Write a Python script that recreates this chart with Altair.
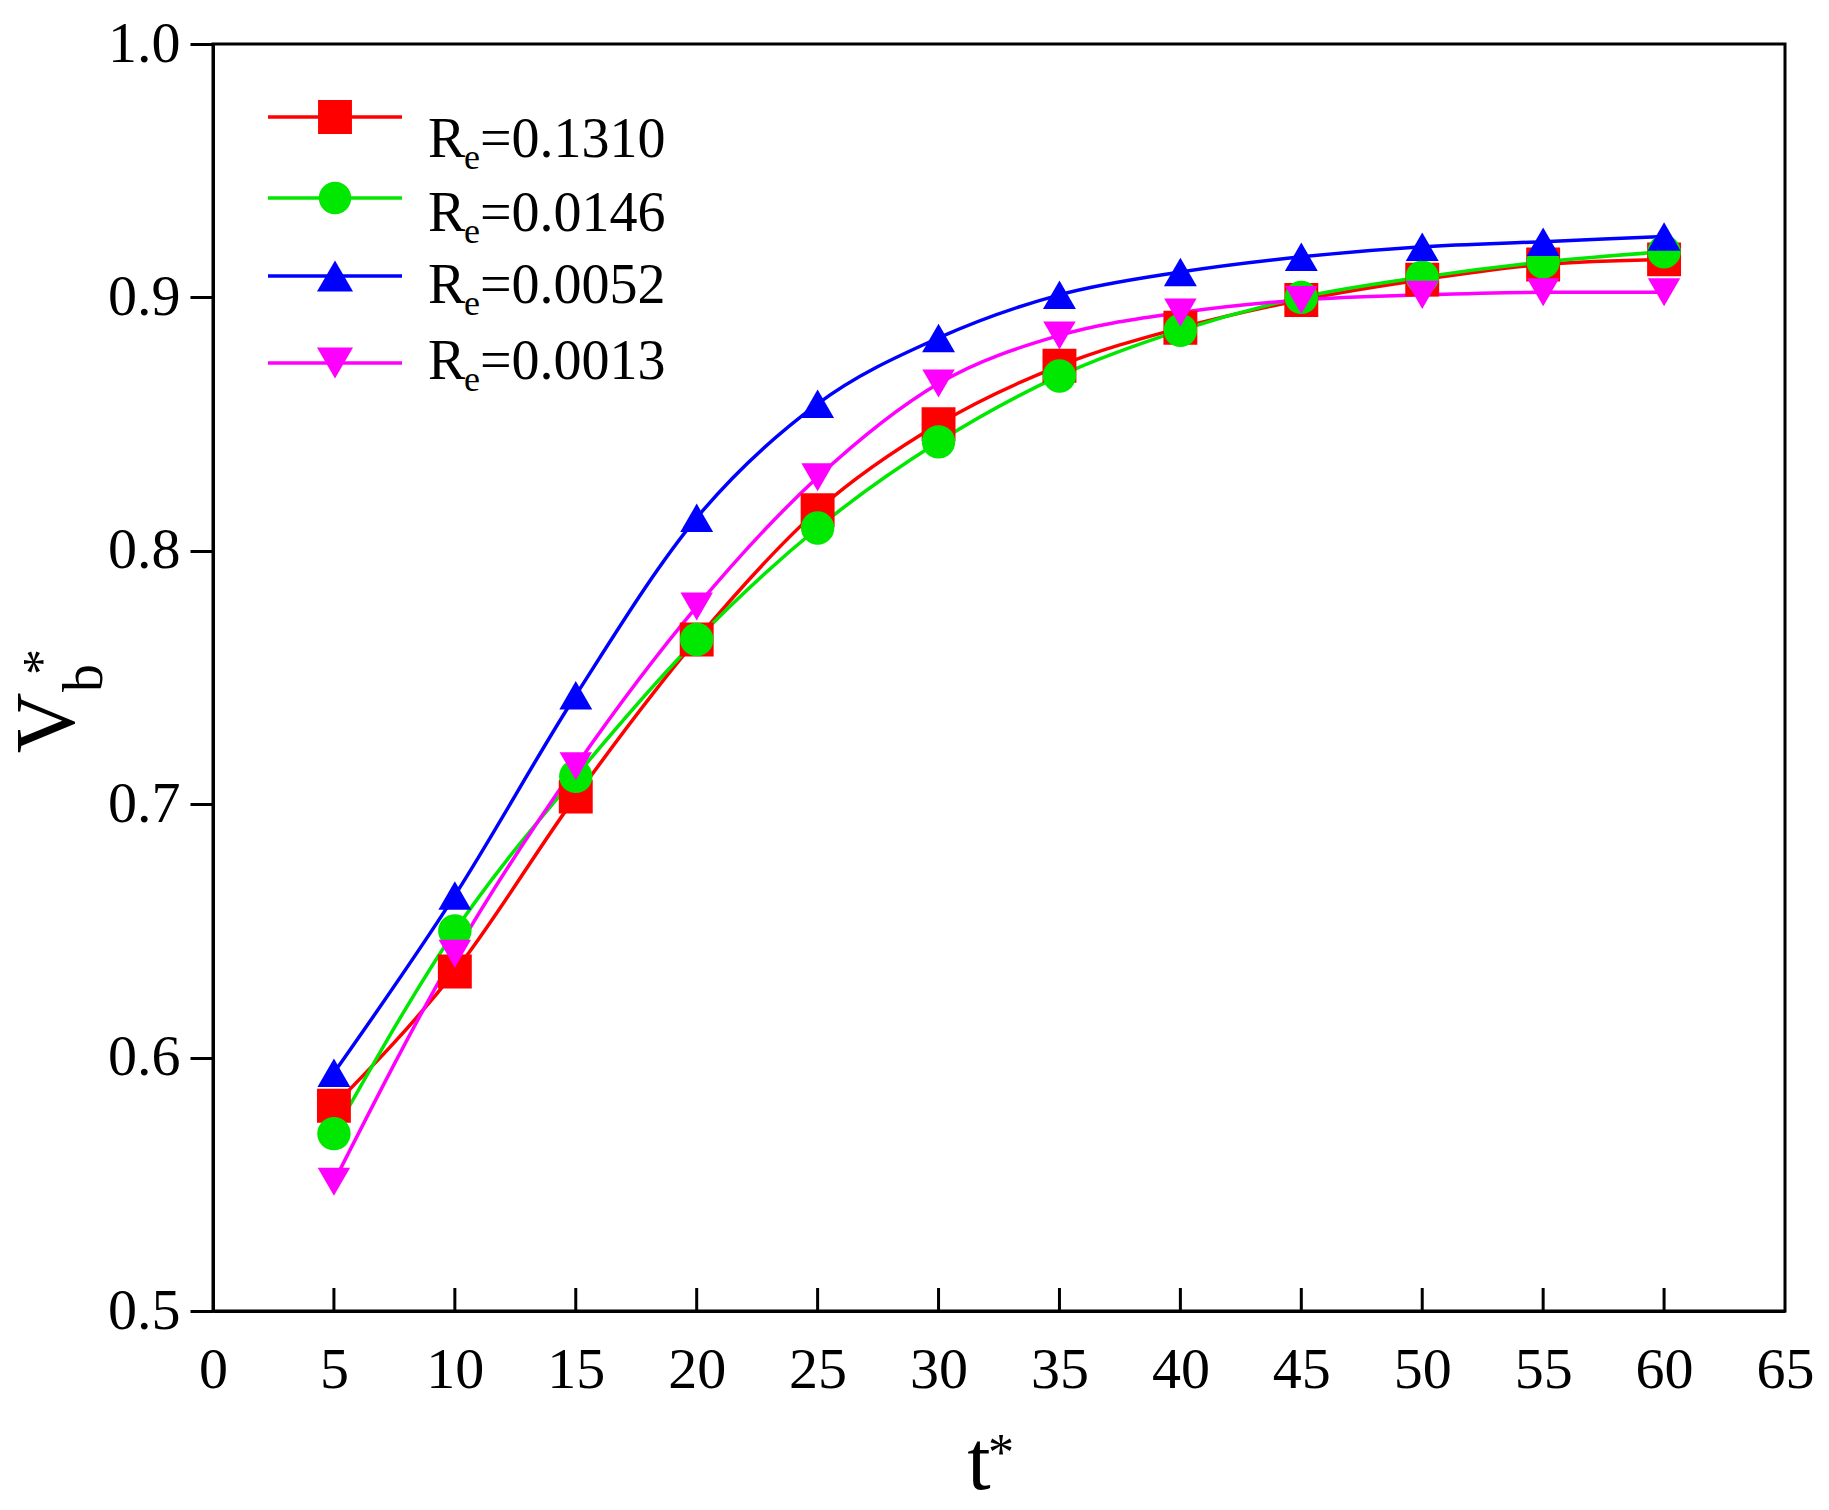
import altair as alt
import pandas as pd

# Dimensionless time t*
t_values = [5, 10, 15, 20, 25, 30, 35, 40, 45, 50, 55, 60]

# Dimensionless bubble volume V_b* for each R_e
vb_0_1310 = [0.581, 0.634, 0.703, 0.765, 0.816, 0.850, 0.873, 0.888, 0.899, 0.907, 0.913, 0.915]
vb_0_0146 = [0.570, 0.650, 0.711, 0.765, 0.809, 0.843, 0.869, 0.887, 0.900, 0.908, 0.914, 0.918]
vb_0_0052 = [0.594, 0.664, 0.743, 0.813, 0.858, 0.884, 0.901, 0.910, 0.916, 0.920, 0.922, 0.924]
vb_0_0013 = [0.551, 0.641, 0.715, 0.778, 0.829, 0.866, 0.885, 0.894, 0.899, 0.901, 0.902, 0.902]

series_labels = ["0.1310", "0.0146", "0.0052", "0.0013"]
series_values = [vb_0_1310, vb_0_0146, vb_0_0052, vb_0_0013]
series_colors = ["#FF0000", "#00E800", "#0000FF", "#FF00FF"]
series_shapes = ["square", "circle", "triangle-up", "triangle-down"]
series_sizes = [1150, 1050, 1300, 1300]

x_tick_values = [0, 5, 10, 15, 20, 25, 30, 35, 40, 45, 50, 55, 60, 65]
x_inner_ticks = [5, 10, 15, 20, 25, 30, 35, 40, 45, 50, 55, 60]
y_tick_values = [0.5, 0.6, 0.7, 0.8, 0.9, 1.0]

rows = []
for order, (lab, vals) in enumerate(zip(series_labels, series_values)):
    for t, v in zip(t_values, vals):
        rows.append({"t": t, "vb": v, "series": lab, "order": order})
df = pd.DataFrame(rows)

W, H = 1572, 1267
FONT = "Liberation Serif"

x_scale = alt.Scale(domain=[0, 65], nice=False, zero=False)
y_scale = alt.Scale(domain=[0.5, 1.0], nice=False, zero=False)
color_scale = alt.Scale(domain=series_labels, range=series_colors)
shape_scale = alt.Scale(domain=series_labels, range=series_shapes)
size_scale = alt.Scale(domain=series_labels, range=series_sizes)

x_axis = alt.Axis(values=x_tick_values, title=None, grid=False, ticks=False, tickSize=0,
                  labelPadding=30, labelFont=FONT, labelFontSize=58, labelColor="black",
                  domainColor="black", domainWidth=3, labelFlush=False)
y_axis = alt.Axis(values=y_tick_values, title=None, grid=False, format=".1f",
                  tickSize=23, tickWidth=3, tickColor="black", labelPadding=10,
                  labelFont=FONT, labelFontSize=58, labelColor="black",
                  domainColor="black", domainWidth=3)

base = alt.Chart(df).encode(
    x=alt.X("t:Q", scale=x_scale, axis=x_axis),
    y=alt.Y("vb:Q", scale=y_scale, axis=y_axis),
)

lines = base.mark_line(strokeWidth=3.5, interpolate="monotone").encode(
    color=alt.Color("series:N", scale=color_scale, legend=None),
    detail="series:N",
    order=alt.Order("t:Q"),
)

points = base.mark_point(filled=True, opacity=1).encode(
    color=alt.Color("series:N", scale=color_scale, legend=None),
    shape=alt.Shape("series:N", scale=shape_scale, legend=None),
    size=alt.Size("series:N", scale=size_scale, legend=None),
)

# Inward tick marks on the bottom axis
tick_df = pd.DataFrame({"t": x_inner_ticks})
x_ticks = alt.Chart(tick_df).mark_rule(color="black", strokeWidth=3).encode(
    x=alt.X("t:Q", scale=x_scale, axis=x_axis),
    y=alt.value(H),
    y2=alt.value(H - 23),
)

layers = [lines, points, x_ticks]

# Legend drawn by hand so the subscript in R_e can be rendered
legend_line_y = [73, 154, 232, 319]
legend_text_y = [96, 170, 242, 318]
for i, lab in enumerate(series_labels):
    one = pd.DataFrame({"label": [lab]})
    c = series_colors[i]
    ly = legend_line_y[i]
    ty = legend_text_y[i]
    layers.append(alt.Chart(one).mark_rule(color=c, strokeWidth=3.5).encode(
        x=alt.value(55), x2=alt.value(189), y=alt.value(ly)))
    layers.append(alt.Chart(one).mark_point(filled=True, opacity=1, color=c,
                                            shape=series_shapes[i], size=series_sizes[i]).encode(
        x=alt.value(122), y=alt.value(ly)))
    layers.append(alt.Chart(one).mark_text(font=FONT, fontSize=56, align="left", baseline="middle",
                                           color="black").encode(
        x=alt.value(215), y=alt.value(ty), text=alt.value("R")))
    layers.append(alt.Chart(one).mark_text(font=FONT, fontSize=36, align="left", baseline="middle",
                                           color="black").encode(
        x=alt.value(251), y=alt.value(ty + 18), text=alt.value("e")))
    layers.append(alt.Chart(one).transform_calculate(txt="'=' + datum.label")
                  .mark_text(font=FONT, fontSize=56, align="left", baseline="middle",
                             color="black").encode(
        x=alt.value(267), y=alt.value(ty), text=alt.Text("txt:N")))

# Axis titles with sub/superscripts
one = pd.DataFrame({"k": [0]})


def label(txt, x, y, size, angle=0, baseline="middle", align="center"):
    return alt.Chart(one).mark_text(font=FONT, fontSize=size, angle=angle, align=align,
                                    baseline=baseline, color="black").encode(
        x=alt.value(x), y=alt.value(y), text=alt.value(txt))


layers += [
    label("V", -164, 679, 84, angle=270),
    label("b", -128, 634, 56, angle=270),
    label("*", -170, 618, 52, angle=270),
    label("t", 766, 1420, 84),
    label("*", 788, 1410, 52),
]

chart = alt.layer(*layers).properties(
    width=W, height=H,
    autosize=alt.AutoSizeParams(type="none"),
    padding={"left": 213, "top": 44, "right": 44, "bottom": 199},
    background="white",
).configure_view(stroke="black", strokeWidth=3)

chart.save("out.html", embed_options={"renderer": "svg", "actions": False})
